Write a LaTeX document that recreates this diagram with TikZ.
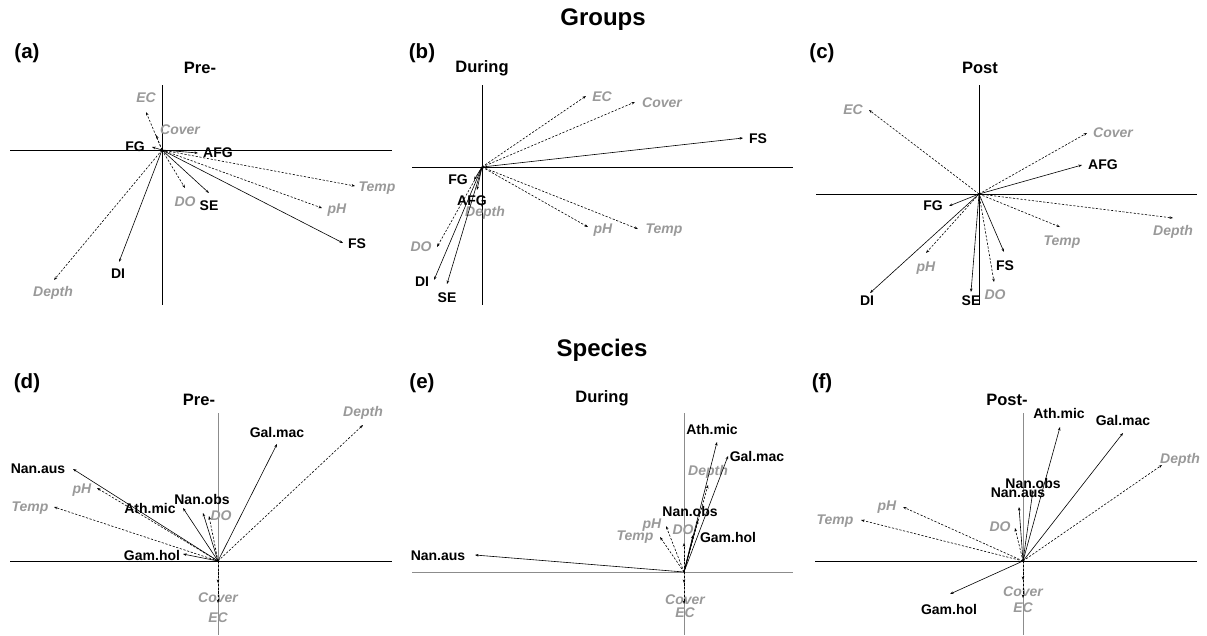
\documentclass[tikz,border=0pt]{standalone}
\usepackage{fontspec}
\setmainfont{Liberation Sans}
\usepackage{xcolor}
\usetikzlibrary{arrows.meta}

\definecolor{envgray}{HTML}{999999}
\definecolor{axisgray}{HTML}{8C8C8C}

\begin{document}
\begin{tikzpicture}[
    x=1pt, y=-1pt,
    axis/.style={line width=0.8pt}, % ordination axes
    gaxis/.style={axis, draw=axisgray},
    vec/.style={line width=0.6pt, -{Stealth[length=3.5pt,width=2.6pt]}}, % fitted vectors
    envvec/.style={vec, dash pattern=on 2.2pt off 1.6pt},
    spp/.style={font=\fontsize{14}{16}\selectfont\bfseries, inner sep=0pt},
    env/.style={font=\fontsize{14}{16}\selectfont\bfseries\itshape, text=envgray, inner sep=0pt},
    ttl/.style={font=\fontsize{16.5}{18}\selectfont\bfseries, inner sep=0pt},
    tag/.style={font=\fontsize{20.5}{22}\selectfont\bfseries, inner sep=0pt},
    head/.style={font=\fontsize{24}{26}\selectfont\bfseries, inner sep=0pt}
]
\useasboundingbox (0,0) rectangle (1207,635);

% headings
\node[head] (groups) at (603,20) {Groups};
\node[head] (species) at (602,350) {Species};

% ---------- (a) Groups, Pre- ----------
\node[tag] (a-tag) at (27,53) {(a)};
\node[ttl] (a-ttl) at (200,68) {Pre-};
\coordinate (a-o) at (162,150);
\draw[axis] (10,150) -- (392,150);
\draw[axis] (162,85) -- (162,305);
\foreach \n/\tx/\ty/\lx/\ly in {EC/146/112/146/98, Cover/156/135/180/130,
    Temp/355/186/377/188, pH/322/208/337/210, DO/185/188/185/202, Depth/54/280/53/293} {
  \coordinate (a-\n) at (\tx,\ty);
  \node[env] (a-\n-lab) at (\lx,\ly) {\n};
  \draw[envvec] (a-o) -- (a-\n);
}
\foreach \n/\tx/\ty/\lx/\ly in {FG/152/147/135/147, AFG/198/153/218/153,
    SE/209/193/209/206, FS/343/243/357/244, DI/119/262/118/274} {
  \coordinate (a-\n) at (\tx,\ty);
  \node[spp] (a-\n-lab) at (\lx,\ly) {\n};
  \draw[vec] (a-o) -- (a-\n);
}

% ---------- (b) Groups, During ----------
\node[tag] (b-tag) at (422,53) {(b)};
\node[ttl] (b-ttl) at (482,68) {During};
\coordinate (b-o) at (482,167);
\draw[axis] (412,167) -- (793,167);
\draw[axis] (482,85) -- (482,305);
\foreach \n/\tx/\ty/\lx/\ly in {EC/586/96/602/97, Cover/635/102/662/103,
    pH/588/227/603/230, Temp/638/229/664/230, DO/437/247/421/247, Depth/482/207/485/213} {
  \coordinate (b-\n) at (\tx,\ty);
  \node[env] (b-\n-lab) at (\lx,\ly) {\n};
  \draw[envvec] (b-o) -- (b-\n);
}
\foreach \n/\tx/\ty/\lx/\ly in {FS/743/138/758/139, FG/474/180/458/180,
    AFG/477/190/472/201, DI/434/280/422/282, SE/447/284/447/298} {
  \coordinate (b-\n) at (\tx,\ty);
  \node[spp] (b-\n-lab) at (\lx,\ly) {\n};
  \draw[vec] (b-o) -- (b-\n);
}

% ---------- (c) Groups, Post ----------
\node[tag] (c-tag) at (822,53) {(c)};
\node[ttl] (c-ttl) at (980,68) {Post};
\coordinate (c-o) at (979,194);
\draw[axis] (816,194) -- (1197,194);
\draw[axis] (979,85) -- (979,305);
\foreach \n/\tx/\ty/\lx/\ly in {EC/869/110/853/110, Cover/1087/133/1113/133,
    Temp/1060/227/1062/242, Depth/1173/218/1173/232, pH/926/253/926/268, DO/994/282/995/295} {
  \coordinate (c-\n) at (\tx,\ty);
  \node[env] (c-\n-lab) at (\lx,\ly) {\n};
  \draw[envvec] (c-o) -- (c-\n);
}
\foreach \n/\tx/\ty/\lx/\ly in {AFG/1082/165/1103/165, FG/949/206/933/206,
    FS/1004/252/1005/266, SE/971/292/971/301, DI/870/293/867/301} {
  \coordinate (c-\n) at (\tx,\ty);
  \node[spp] (c-\n-lab) at (\lx,\ly) {\n};
  \draw[vec] (c-o) -- (c-\n);
}

% ---------- (d) Species, Pre- ----------
\node[tag] (d-tag) at (27,383) {(d)};
\node[ttl] (d-ttl) at (199,400) {Pre-};
\coordinate (d-o) at (218,561);
\draw[axis] (10,561) -- (392,561);
\draw[gaxis] (218,413) -- (218,635);
\foreach \n/\tx/\ty/\lx/\ly in {Depth/363/425/363/413, pH/97/488/82/490,
    Temp/54/507/30/508, DO/209/516/221/516, Cover/218/583/218/598, EC/218/603/218/618} {
  \coordinate (d-\n) at (\tx,\ty);
  \node[env] (d-\n-lab) at (\lx,\ly) {\n};
  \draw[envvec] (d-o) -- (d-\n);
}
\foreach \n/\t/\tx/\ty/\lx/\ly in {galmac/Gal.mac/277/444/277/432, nanaus/Nan.aus/73/469/38/469,
    athmic/Ath.mic/183/508/150/508, nanobs/Nan.obs/203/513/202/499, gamhol/Gam.hol/183/554/152/555} {
  \coordinate (d-\n) at (\tx,\ty);
  \node[spp] (d-\n-lab) at (\lx,\ly) {\t};
  \draw[vec] (d-o) -- (d-\n);
}

% ---------- (e) Species, During ----------
\node[tag] (e-tag) at (422,383) {(e)};
\node[ttl] (e-ttl) at (602,398) {During};
\coordinate (e-o) at (684,572);
\draw[gaxis] (412,572) -- (793,572);
\draw[gaxis] (684,413) -- (684,635);
\foreach \n/\tx/\ty/\lx/\ly in {Depth/708/485/708/472, pH/666/526/652/525,
    Temp/660/537/635/537, DO/684/543/683/530, Cover/684/583/685/600, EC/684/604/685/613} {
  \coordinate (e-\n) at (\tx,\ty);
  \node[env] (e-\n-lab) at (\lx,\ly) {\n};
  \draw[envvec] (e-o) -- (e-\n);
}
\foreach \n/\t/\tx/\ty/\lx/\ly in {athmic/Ath.mic/717/442/712/429, galmac/Gal.mac/728/456/757/456,
    nanobs/Nan.obs/698/520/690/511, gamhol/Gam.hol/693/535/728/537, nanaus/Nan.aus/475/555/438/556} {
  \coordinate (e-\n) at (\tx,\ty);
  \node[spp] (e-\n-lab) at (\lx,\ly) {\t};
  \draw[vec] (e-o) -- (e-\n);
}

% ---------- (f) Species, Post- ----------
\node[tag] (f-tag) at (822,383) {(f)};
\node[ttl] (f-ttl) at (1007,400) {Post-};
\coordinate (f-o) at (1023,561);
\draw[axis] (815,561) -- (1197,561);
\draw[gaxis] (1023,413) -- (1023,635);
\foreach \n/\tx/\ty/\lx/\ly in {Depth/1162/465/1180/460, pH/903/507/887/507,
    Temp/861/520/835/521, DO/1015/528/1000/527, Cover/1023/580/1023/592, EC/1023/598/1023/608} {
  \coordinate (f-\n) at (\tx,\ty);
  \node[env] (f-\n-lab) at (\lx,\ly) {\n};
  \draw[envvec] (f-o) -- (f-\n);
}
\foreach \n/\t/\tx/\ty/\lx/\ly in {athmic/Ath.mic/1060/427/1059/413, galmac/Gal.mac/1123/433/1123/420,
    nanobs/Nan.obs/1033/490/1033/483, nanaus/Nan.aus/1019/507/1018/493, gamhol/Gam.hol/950/594/949/609} {
  \coordinate (f-\n) at (\tx,\ty);
  \node[spp] (f-\n-lab) at (\lx,\ly) {\t};
  \draw[vec] (f-o) -- (f-\n);
}
\end{tikzpicture}
\end{document}
